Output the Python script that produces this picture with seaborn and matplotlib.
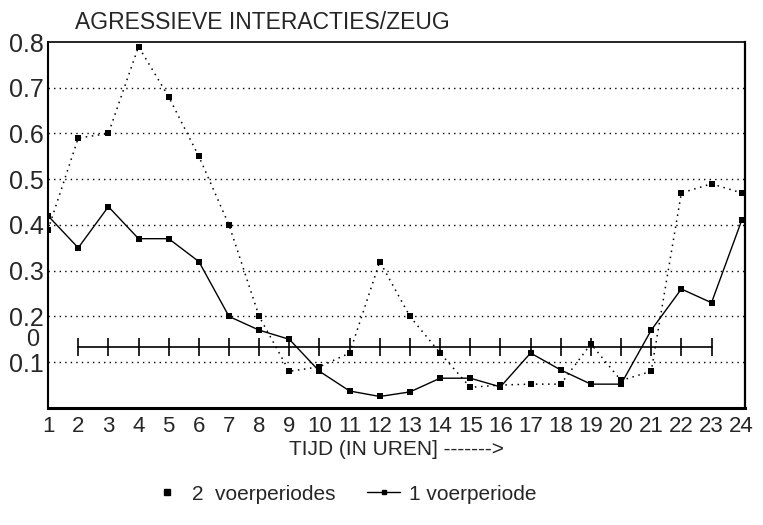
import numpy as np
import pandas as pd
import matplotlib
matplotlib.use("Agg")
import matplotlib.pyplot as plt
import matplotlib.transforms as mtransforms
from matplotlib.lines import Line2D
import seaborn as sns

# hours of the day and aggressive interactions per sow
hours = list(range(1, 25))
twee_voer = [0.39, 0.59, 0.60, 0.79, 0.68, 0.55, 0.40, 0.20, 0.08, 0.09, 0.12, 0.32,
             0.20, 0.12, 0.045, 0.05, 0.052, 0.052, 0.14, 0.06, 0.08, 0.47, 0.49, 0.47]
een_voer = [0.42, 0.35, 0.44, 0.37, 0.37, 0.32, 0.20, 0.17, 0.15, 0.08, 0.037, 0.025,
            0.035, 0.065, 0.065, 0.046, 0.12, 0.083, 0.052, 0.052, 0.17, 0.26, 0.23, 0.41]
yticks = [0.1, 0.2, 0.3, 0.4, 0.5, 0.6, 0.7, 0.8]
# stray axis from an overlaid copy in the scan
overlay_hours = list(range(2, 24))
overlay_level = 0.133

df = pd.DataFrame({"uur": hours, "twee": twee_voer, "een": een_voer})

sns.set_style("white")
plt.rcParams["font.family"] = ["Liberation Sans", "DejaVu Sans"]

fig = plt.figure(figsize=(7.63, 5.25), dpi=100)
ax = fig.add_axes([0.063, 0.223, 0.913, 0.697])

sns.lineplot(data=df, x="uur", y="twee", ax=ax, color="black", linestyle=(0, (1, 3)),
             linewidth=1.1, marker="s", markersize=4.5, markeredgewidth=0)
sns.lineplot(data=df, x="uur", y="een", ax=ax, color="black", linewidth=1.0,
             marker="s", markersize=4.5, markeredgewidth=0)

# overlay axis line with tick marks
ax.plot(overlay_hours, [overlay_level] * len(overlay_hours), color="black",
        linewidth=1.2, marker="|", markersize=13, markeredgewidth=1.2)
trans = mtransforms.blended_transform_factory(ax.transAxes, ax.transData)
ax.text(-0.012, overlay_level + 0.016, "0", transform=trans, ha="right", va="center",
        fontsize=17)

for yv in yticks[:-1]:
    ax.axhline(yv, color="black", linestyle=(0, (1, 3)), linewidth=1.0, zorder=0)

ax.set_xlim(1, 24.1)
ax.set_ylim(0, 0.8)
ax.set_yticks(yticks)
ax.set_yticklabels([f"{v:.1f}" for v in yticks], fontsize=18)
ax.set_xticks(hours)
ax.set_xticklabels([str(h) for h in hours], fontsize=16)
ax.tick_params(axis="x", length=0, pad=6)
ax.tick_params(axis="y", direction="in", length=4, width=1.5, pad=3)

for side, lw in [("left", 1.5), ("bottom", 2.2), ("right", 1.6), ("top", 1.2)]:
    ax.spines[side].set_visible(True)
    ax.spines[side].set_color("black")
    ax.spines[side].set_linewidth(lw)

ax.set_xlabel("TIJD (IN UREN] ------->", fontsize=15, labelpad=2)
ax.set_ylabel("")
fig.text(0.098, 0.935, "AGRESSIEVE INTERACTIES/ZEUG", fontsize=16.5, ha="left", va="bottom")

handles = [
    Line2D([], [], color="black", linestyle="none", marker="s", markersize=4),
    Line2D([], [], color="black", linewidth=1.0, marker="s", markersize=3),
]
fig.legend(handles, ["2  voerperiodes", "1 voerperiode"], loc="lower center",
           bbox_to_anchor=(0.45, 0.005), ncol=2, frameon=False, fontsize=15,
           handlelength=1.6, handletextpad=0.4, columnspacing=1.5)

fig.savefig("out.png", dpi=100)
